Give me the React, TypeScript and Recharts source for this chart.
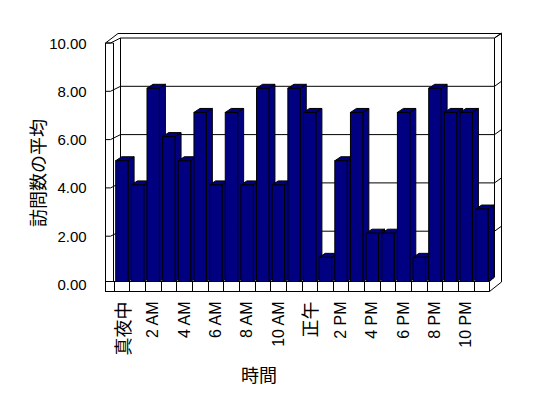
import React from 'react';
import { BarChart, Bar, XAxis, YAxis, CartesianGrid, Label } from 'recharts';

// hourly average visits
const HOURS = [
  '真夜中', '1 AM', '2 AM', '3 AM', '4 AM', '5 AM', '6 AM', '7 AM', '8 AM', '9 AM', '10 AM', '11 AM',
  '正午', '1 PM', '2 PM', '3 PM', '4 PM', '5 PM', '6 PM', '7 PM', '8 PM', '9 PM', '10 PM', '11 PM',
];
const VISITS = [5, 4, 8, 6, 5, 7, 4, 7, 4, 8, 4, 8, 7, 1, 5, 7, 2, 2, 7, 1, 8, 7, 7, 3];
const Y_TICKS = [0, 2, 4, 6, 8, 10];

const data = HOURS.map((hour, i) => ({ hour, visits: VISITS[i] }));

const W = 548;
const H = 398;
const PLOT_L = 113.7;
const PLOT_R = 489.3;
const PLOT_T = 40;
const PLOT_B = 281.5;
const BAND = (PLOT_R - PLOT_L) / HOURS.length;

const NAVY = '#000080';
const LATIN = '"Liberation Sans", Arial, sans-serif';
const CJK = '"Noto Sans CJK JP", "Noto Sans CJK SC", sans-serif';
const DX = 6;
const DY = 4;

// 3D column: front face, top and right side
const Bar3D = (props: any) => {
  const { x, y, width, height } = props;
  if (!height || height <= 0) return null;
  const top = `${x},${y} ${x + DX},${y - DY} ${x + width + DX},${y - DY} ${x + width},${y}`;
  const side = `${x + width},${y} ${x + width + DX},${y - DY} ${x + width + DX},${y + height - DY} ${x + width},${y + height}`;
  return (
    <g stroke="#000" strokeWidth={1} fill={NAVY}>
      <polygon points={side} />
      <polygon points={top} />
      <rect x={x} y={y} width={width} height={height} />
    </g>
  );
};

// back-wall grid line plus the little ticks on the left/right walls
const GridLine = (p: any) => {
  const y = p.y1;
  const isBottom = Math.abs(y - PLOT_B) < 1;
  return (
    <g key={p.key ?? `g-${y}`} stroke="#000" strokeWidth={1} fill="none">
      {!isBottom && <line x1={120.5} y1={y - 2} x2={494.5} y2={y - 2} />}
      {!isBottom && <line x1={105.5} y1={y + 3} x2={110.5} y2={y + 3} />}
      {!isBottom && <line x1={110.5} y1={y + 3} x2={120.5} y2={y - 2} />}
      {!isBottom && <line x1={494.5} y1={y - 2} x2={501.5} y2={y - 7} />}
    </g>
  );
};

const YTick = (props: any) => {
  const { x, y, payload } = props;
  return (
    <text x={x} y={y + 3} textAnchor="end" dominantBaseline="central" fontSize={15} fontFamily={LATIN} fill="#000">
      {Number(payload.value).toFixed(2)}
    </text>
  );
};

const XTick = (props: any) => {
  const { x, payload } = props;
  const label = String(payload.value);
  const cjk = /[^\x00-\x7F]/.test(label);
  return (
    <text
      transform={`translate(${x},${PLOT_B + 20}) rotate(-90)`}
      textAnchor="end"
      dominantBaseline="central"
      fontSize={cjk ? 18 : 16}
      fontFamily={cjk ? CJK : LATIN}
      fill="#000"
    >
      {label}
    </text>
  );
};

const Frame = () => {
  const ticks = HOURS.map((_, i) => PLOT_L + i * BAND).concat([PLOT_R]);
  return (
    <svg width={W} height={H} style={{ position: 'absolute', left: 0, top: 0 }}>
      <g stroke="#000" strokeWidth={1} fill="none">
        {/* left wall */}
        <line x1={105.5} y1={43} x2={105.5} y2={292} />
        <line x1={113.5} y1={43} x2={113.5} y2={282} />
        <line x1={105.5} y1={43} x2={113.5} y2={43} />
        <line x1={105.5} y1={43} x2={118} y2={33.5} />
        {/* back wall */}
        <line x1={118} y1={33.5} x2={501.5} y2={33.5} />
        <line x1={120.5} y1={38} x2={120.5} y2={279} />
        <line x1={494.5} y1={38} x2={494.5} y2={277} />
        <line x1={501.5} y1={33.5} x2={501.5} y2={282} />
        <line x1={494.5} y1={38} x2={501.5} y2={33.5} />
        {/* floor */}
        <line x1={105.5} y1={281.5} x2={489.5} y2={281.5} />
        <line x1={105.5} y1={291.5} x2={489.5} y2={291.5} />
        <line x1={489.5} y1={291.5} x2={501.5} y2={282} />
        <line x1={489.5} y1={281.5} x2={494.5} y2={277} />
        {ticks.map((t, i) => (
          <line key={i} x1={Math.round(t) + 0.5} y1={281.5} x2={Math.round(t) + 0.5} y2={291.5} />
        ))}
      </g>
    </svg>
  );
};

export default function App() {
  return (
    <div style={{ position: 'absolute', left: 0, top: 0, width: W, height: H, background: '#fff' }}>
      <Frame />
      <div style={{ position: 'absolute', left: 0, top: 0 }}>
        <BarChart
          width={W}
          height={H}
          data={data}
          margin={{ top: PLOT_T, right: W - PLOT_R, left: 0, bottom: 0 }}
        >
          <CartesianGrid vertical={false} horizontal={GridLine} />
          <XAxis
            dataKey="hour"
            interval={1}
            height={H - PLOT_B}
            axisLine={false}
            tickLine={false}
            tick={<XTick />}
          >
            <Label
              content={() => (
                <text x={259} y={374} textAnchor="middle" dominantBaseline="central" fontSize={18} fontFamily={CJK} fill="#000">
                  時間
                </text>
              )}
            />
          </XAxis>
          <YAxis
            domain={[0, 10]}
            ticks={Y_TICKS}
            width={PLOT_L}
            axisLine={false}
            tickLine={false}
            tickMargin={21}
            tick={<YTick />}
          >
            <Label
              content={() => (
                <text
                  transform="translate(36.7,173) rotate(-90)"
                  textAnchor="middle"
                  dominantBaseline="central"
                  fontSize={18}
                  fontFamily={CJK}
                  fill="#000"
                >
                  訪問数の平均
                </text>
              )}
            />
          </YAxis>
          <Bar dataKey="visits" barSize={12.4} shape={Bar3D} isAnimationActive={false} />
        </BarChart>
      </div>
    </div>
  );
}
